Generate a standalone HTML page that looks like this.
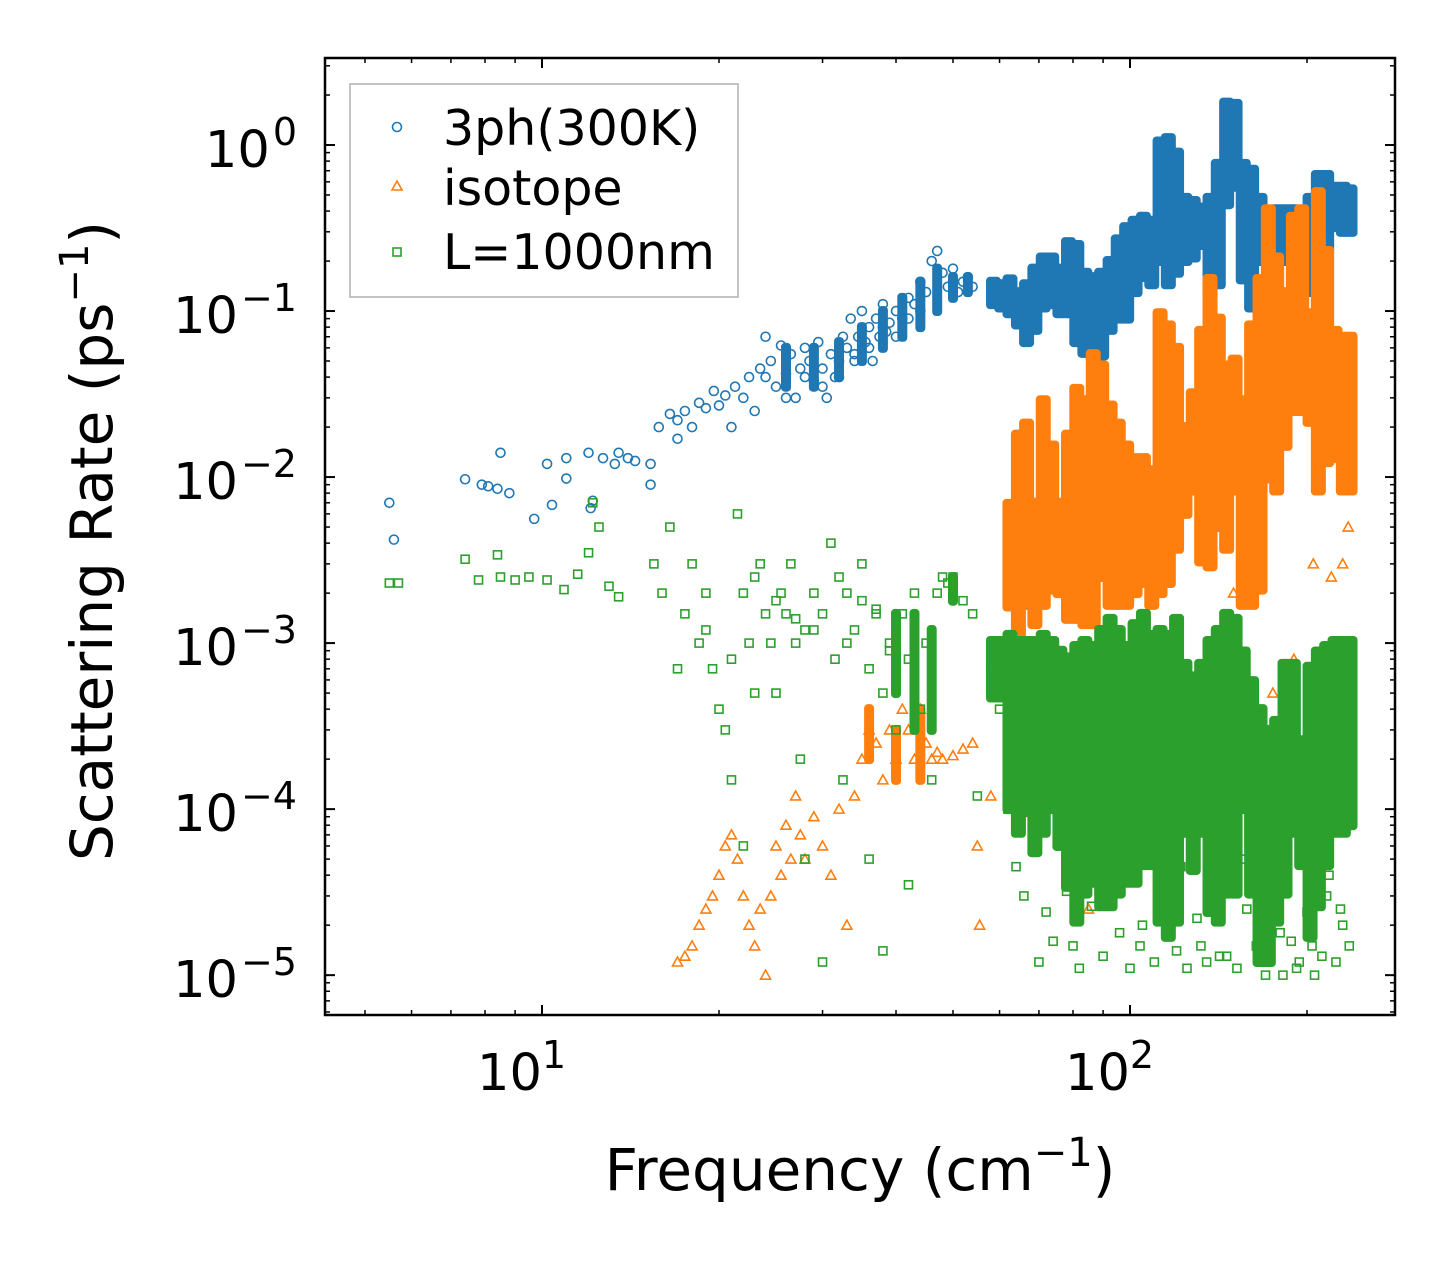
<!DOCTYPE html>
<html><head><meta charset="utf-8">
<style>
html,body{margin:0;padding:0;background:#fff;}
svg text{font-family:"DejaVu Sans","Liberation Sans",sans-serif;fill:#000;}
</style></head>
<body>
<svg id="chart" width="1455" height="1265" viewBox="0 0 1455 1265" xmlns="http://www.w3.org/2000/svg">
<rect width="1455" height="1265" fill="#fff"/>
<g id="marks"></g>
<g id="axes"></g>
<text x="860" y="1190" font-size="58" text-anchor="middle">Frequency (cm<tspan dy="-24" font-size="40">−1</tspan><tspan dy="24">)</tspan></text>
<text transform="translate(112,541) rotate(-90)" font-size="58" text-anchor="middle">Scattering Rate (ps<tspan dy="-24" font-size="40">−1</tspan><tspan dy="24">)</tspan></text>
<g>
<rect x="350" y="84" width="388" height="213" fill="#fff" stroke="#b0b0b0" stroke-width="1.5"/>
<circle cx="397" cy="127" r="4.5" fill="none" stroke="#1f77b4" stroke-width="1.6"/>
<text x="443" y="145" font-size="49">3ph(300K)</text>
<path d="M397,181 L402,190 L392,190 Z" fill="none" stroke="#ff7f0e" stroke-width="1.6"/>
<text x="443" y="205" font-size="49">isotope</text>
<rect x="393" y="248" width="8" height="8" fill="none" stroke="#2ca02c" stroke-width="1.6"/>
<text x="443" y="269" font-size="49">L=1000nm</text>
</g>
</svg>
<script>
const threePhFreq=[5.5,5.6,7.4,7.9,8.1,8.4,8.5,8.8,9.7,10.2,10.4,11,11,12,12.2,12.1,12.7,13.3,13.5,14,14.4,15.3,15.3,15.8,16.5,17,17,17.5,18,18.5,19,19.6,20,20.5,21,21.3,22,22.5,23,23.5,24,24.5,25,25.5,26,26.5,27,27.5,28,28.5,29,29.5,30,30.5,31,31.5,32,32.5,33,33.5,34,34.5,35,35.5,36,36.5,37,37.5,38,38.5,39,40,41,42,43,44,45,46,47,48,49,50,51,52,53,54,36,38,40,42,44,30,32,34,26,28,24];
const threePhRate=[0.007,0.0042,0.0097,0.009,0.0088,0.0085,0.014,0.008,0.0056,0.012,0.0068,0.0098,0.013,0.014,0.0072,0.0065,0.013,0.012,0.014,0.013,0.0125,0.009,0.012,0.02,0.024,0.017,0.022,0.025,0.02,0.028,0.026,0.033,0.027,0.031,0.02,0.035,0.03,0.04,0.025,0.045,0.07,0.05,0.035,0.062,0.042,0.055,0.03,0.045,0.06,0.05,0.038,0.065,0.045,0.03,0.055,0.04,0.05,0.07,0.06,0.09,0.055,0.07,0.1,0.065,0.08,0.05,0.09,0.07,0.11,0.075,0.085,0.1,0.09,0.12,0.11,0.15,0.13,0.2,0.23,0.17,0.14,0.18,0.13,0.15,0.16,0.14,0.06,0.08,0.07,0.09,0.1,0.035,0.04,0.05,0.03,0.04,0.04];
const isoFreq=[17,17.5,18,18.5,19,19.5,20,20.5,21,21.5,22,22.5,23,23.5,24,24.5,25,25.5,26,26.5,27,27.5,28,29,30,31,32,33,34,35,36,37,38,39,40,41,42,43,44,45,46,47,48,50,52,54,55,55.5,
58,60,62,70,75,85,100,110,125,140,150,160,175,190,205,220,230,235];
const isoRate=[1.2e-5,1.3e-5,1.5e-5,2e-5,2.5e-5,3e-5,4e-5,6e-5,7e-5,5e-5,3e-5,2e-5,1.5e-5,2.5e-5,1e-5,3e-5,6e-5,4e-5,8e-5,5e-5,1.2e-4,7e-5,5e-5,9e-5,6e-5,4e-5,1e-4,2e-5,1.2e-4,2e-4,3e-4,2.5e-4,1.5e-4,3e-4,2e-4,4e-4,3e-4,2e-4,4e-4,2.5e-4,2e-4,2.2e-4,2e-4,2.1e-4,2.3e-4,2.5e-4,6e-5,2e-5,
1.2e-4,5e-4,1e-3,6e-4,4e-4,2.5e-5,4e-4,1e-3,6e-4,1e-3,2e-3,4e-3,5e-4,8e-4,3e-3,2.5e-3,3e-3,5e-3];
const bndFreq=[5.5,5.7,7.4,7.8,8.4,8.5,9,9.5,10.2,10.9,11.5,12,12.5,12.2,13,13.5,15.5,16,16.5,17,17.5,18,18.5,19,19.5,20,20.5,21,21.5,22,22.5,23,23.5,24,24.5,25,25.5,26,26.5,27,27.5,28,29,30,31,31.5,32,32.5,33,34,35,36,37,38,39,40,41,42,43,44,45,46,47,48,49,50,52,54,55,36,38,42,22,30,28,
58,60,62,66,70,74,78,82,86,90,95,100,105,110,115,120,125,130,135,140,146,152,158,164,170,176,182,188,194,200,206,212,218,224,230,236,
64,72,80,88,96,104,112,122,132,142,156,168,180,192,204,216,228,
19,21,23,25,27,29,33,35,37,39];
const bndRate=[2.3e-3,2.3e-3,3.2e-3,2.4e-3,3.4e-3,2.5e-3,2.4e-3,2.5e-3,2.4e-3,2.1e-3,2.6e-3,3.5e-3,5e-3,7e-3,2.2e-3,1.9e-3,3e-3,2e-3,5e-3,7e-4,1.5e-3,3e-3,1e-3,2e-3,7e-4,4e-4,3e-4,1.5e-4,6e-3,2e-3,1e-3,5e-4,3e-3,1.5e-3,1e-3,5e-4,2e-3,1.5e-3,3e-3,1e-3,2e-4,1.2e-3,2e-3,1.5e-3,4e-3,8e-4,2.5e-3,1.5e-4,1e-3,1.2e-3,3e-3,7e-4,1.5e-3,5e-4,1e-3,3e-4,1.5e-3,8e-4,2e-3,4e-4,1e-3,1.5e-4,2e-3,2.5e-3,2.3e-3,2.5e-3,1.8e-3,1.5e-3,1.2e-4,5e-5,1.4e-5,3.5e-5,6e-5,1.2e-5,5e-5,
7e-4,4e-4,1e-4,3e-5,1.2e-5,1.6e-5,3.2e-5,1.1e-5,2.6e-5,1.3e-5,3.5e-5,1.1e-5,2e-5,1.2e-5,2.8e-5,1.4e-5,1.1e-5,2.2e-5,1.2e-5,3e-5,1.3e-5,1.1e-5,2.5e-5,1.5e-5,1e-5,3.5e-5,1e-5,1.6e-5,1.2e-5,2.4e-5,1e-5,1.3e-5,4e-5,1.2e-5,2e-5,1.5e-5,
4.5e-5,2.4e-5,1.5e-5,5e-5,1.8e-5,1.5e-5,2.6e-5,4.5e-5,1.5e-5,1.3e-5,5e-5,3e-5,1.8e-5,1.1e-5,1.5e-5,3e-5,2.5e-5,
1.2e-3,8e-4,2.5e-3,1.8e-3,1.4e-3,1.2e-3,2e-3,1.8e-3,1.6e-3,9e-4];
/* dense clusters: frequency columns with min/max rate of each series */
const bandFreq=[58.6,60.5,62.5,64.6,66.7,68.9,71.2,73.6,76.0,78.6,81.2,83.8,86.6,89.5,92.5,95.5,98.7,102.0,105.4,108.9,112.5,116.2,120.0,124.0,128.1,132.4,136.8,141.3,146.0,150.9,155.8,161.0,166.4,171.9,177.6,183.5,189.6,195.9,202.4,209.1,216.0,223.2,230.6,236.7];
const threePhHi=[0.15,0.145,0.155,0.13,0.145,0.18,0.21,0.21,0.18,0.26,0.25,0.17,0.16,0.17,0.2,0.27,0.32,0.35,0.37,0.35,1.05,1.1,0.9,0.48,0.46,0.42,0.48,0.77,1.8,1.77,0.77,0.71,0.48,0.35,0.41,0.41,0.41,0.32,0.48,0.66,0.66,0.56,0.56,0.54];
const threePhLo=[0.11,0.105,0.097,0.083,0.065,0.077,0.105,0.11,0.097,0.097,0.065,0.056,0.052,0.054,0.077,0.09,0.09,0.13,0.16,0.145,0.2,0.145,0.17,0.2,0.21,0.25,0.13,0.145,0.44,0.56,0.155,0.105,0.2,0.23,0.21,0.2,0.21,0.25,0.13,0.2,0.23,0.32,0.3,0.3];
const isoHi=[null,null,0.0069,0.018,0.021,0.007,0.029,0.0155,0.007,0.018,0.034,0.029,0.055,0.047,0.027,0.021,0.0155,0.013,0.013,0.011,0.097,0.082,0.06,0.02,0.032,0.076,0.156,0.09,0.047,0.051,0.029,0.082,0.156,0.41,0.21,0.13,0.37,0.41,0.097,0.52,0.23,0.076,0.07,0.07];
const isoLo=[null,null,0.00166,0.00075,0.0017,0.0013,0.0017,0.0021,0.002,0.0014,0.0014,0.0013,0.0013,0.0025,0.0017,0.0017,0.0017,0.002,0.0023,0.0017,0.002,0.0023,0.0037,0.006,0.0083,0.0031,0.0029,0.005,0.0037,0.0083,0.0017,0.0017,0.0021,0.0098,0.0083,0.0154,0.025,0.025,0.0215,0.0083,0.0123,0.013,0.0083,0.0083];
const bndHi=[0.00103,0.00103,0.00112,0.00103,0.00103,0.00103,0.00112,0.00103,0.0009,0.00082,0.00096,0.00103,0.00096,0.0012,0.0014,0.0012,0.00096,0.0013,0.0015,0.00112,0.0012,0.00112,0.0014,0.00075,0.00063,0.00075,0.00103,0.0012,0.0015,0.0014,0.00089,0.00059,0.0004,0.0003,0.00034,0.00075,0.00075,0.00026,0.00072,0.00089,0.00096,0.00103,0.00103,0.00103];
const bndLo=[0.00047,0.00047,0.0001,7.2e-5,9.6e-5,5.5e-5,7.2e-5,1e-4,6e-5,3.4e-5,2.1e-5,3.1e-5,3.6e-5,2.6e-5,2.6e-5,3.1e-5,3.6e-5,3.6e-5,4.6e-5,4.6e-5,2.1e-5,1.7e-5,2.1e-5,7.2e-5,4.3e-5,7.2e-5,2.4e-5,2.1e-5,3.1e-5,3.1e-5,1e-4,3.1e-5,1.2e-5,1.2e-5,2.1e-5,3.1e-5,7.2e-5,4.6e-5,1.7e-5,2.6e-5,4.6e-5,7.2e-5,7.2e-5,8e-5];
const lowBandFreq3ph=[26,29,32,35,38,41,44,47,50,53];
const lowBandHi3ph=[0.06,0.06,0.065,0.08,0.1,0.12,0.15,0.18,0.16,0.16];
const lowBandLo3ph=[0.035,0.035,0.04,0.05,0.06,0.07,0.08,0.1,0.12,0.13];
const lowBandFreqIso=[36,40,44];
const lowBandHiIso=[4e-4,3e-4,4e-4];
const lowBandLoIso=[2e-4,1.5e-4,1.5e-4];
const lowBandFreqBnd=[40,43,46,50];
const lowBandHiBnd=[1.5e-3,1.5e-3,1.2e-3,2.5e-3];
const lowBandLoBnd=[5e-4,3e-4,3e-4,1.8e-3];
const xTickExps=[1,2];
const yTickExps=[0,-1,-2,-3,-4,-5];

const L=325,R=1395,T=58,B=1015;
const xMin=1-217/588,xMax=2+265/588;
const yMin=-5.24,yMax=0.524;
function X(v){return L+(Math.log10(v)-xMin)/(xMax-xMin)*(R-L);}
function Y(v){return B-(Math.log10(v)-yMin)/(yMax-yMin)*(B-T);}
const NS='http://www.w3.org/2000/svg';
function mk(tag,attrs,parent){const e=document.createElementNS(NS,tag);for(const k in attrs)e.setAttribute(k,attrs[k]);parent.appendChild(e);return e;}
const marks=document.getElementById('marks');
const g1=mk('g',{},marks);
const g2=mk('g',{},marks);
const g3=mk('g',{},marks);
function bands(freqs,hi,lo,color,g,w,name){freqs.forEach((f,i)=>{if(hi[i]==null)return;const y1=Y(hi[i])-5,y2=Y(lo[i])+5;
const r=mk('rect',{x:X(f)-w/2,y:y1,width:w,height:y2-y1,rx:4,fill:color},g);

});}
bands(bandFreq,threePhHi,threePhLo,'#1f77b4',g1,15,'cluster-3ph');
bands(lowBandFreq3ph,lowBandHi3ph,lowBandLo3ph,'#1f77b4',g1,10,'cluster-3ph');
threePhFreq.forEach((f,i)=>{const c=mk('circle',{cx:X(f),cy:Y(threePhRate[i]),r:4.5,fill:'none',stroke:'#1f77b4','stroke-width':1.6},g1);

});
bands(bandFreq,isoHi,isoLo,'#ff7f0e',g2,15,'cluster-isotope');
bands(lowBandFreqIso,lowBandHiIso,lowBandLoIso,'#ff7f0e',g2,10,'cluster-isotope');
isoFreq.forEach((f,i)=>{const x=X(f),y=Y(isoRate[i]);const p=mk('path',{d:`M${x},${y-5} L${x+5},${y+4} L${x-5},${y+4} Z`,fill:'none',stroke:'#ff7f0e','stroke-width':1.6},g2);

});
bands(bandFreq,bndHi,bndLo,'#2ca02c',g3,15,'cluster-boundary');
bands(lowBandFreqBnd,lowBandHiBnd,lowBandLoBnd,'#2ca02c',g3,10,'cluster-boundary');
bndFreq.forEach((f,i)=>{const x=X(f),y=Y(bndRate[i]);const s=mk('rect',{x:x-4,y:y-4,width:8,height:8,fill:'none',stroke:'#2ca02c','stroke-width':1.6},g3);

});

const axes=document.getElementById('axes');
const frame=mk('rect',{x:L,y:T,width:R-L,height:B-T,fill:'none',stroke:'#000','stroke-width':2.5},axes);


function tick(x1,y1,x2,y2,w){mk('line',{x1,y1,x2,y2,stroke:'#000','stroke-width':w},axes);}
for(let d=0;d<=2;d++){for(let m=1;m<=9;m++){const v=m*Math.pow(10,d);const lv=Math.log10(v);if(lv<xMin||lv>xMax)continue;const x=X(v);const len=m===1?10:5;const w=m===1?2:1.5;tick(x,B,x,B-len,w);tick(x,T,x,T+len,w);}}
for(let d=-6;d<=0;d++){for(let m=1;m<=9;m++){const v=m*Math.pow(10,d);const lv=Math.log10(v);if(lv<yMin||lv>yMax)continue;const y=Y(v);const len=m===1?10:5;const w=m===1?2:1.5;tick(L,y,L+len,y,w);tick(R,y,R-len,y,w);}}
xTickExps.forEach(e=>{const t=mk('text',{x:X(Math.pow(10,e))-65,y:1090,'font-size':51},axes);


t.innerHTML=`10<tspan dy="-22" font-size="38">${e}</tspan>`;});
yTickExps.forEach(e=>{const t=mk('text',{x:297,y:Y(Math.pow(10,e))+22,'font-size':51,'text-anchor':'end'},axes);


t.innerHTML=`10<tspan dy="-22" font-size="38" dx="3">${e<0?'−'+(-e):e}</tspan>`;});
</script>
</body></html>
